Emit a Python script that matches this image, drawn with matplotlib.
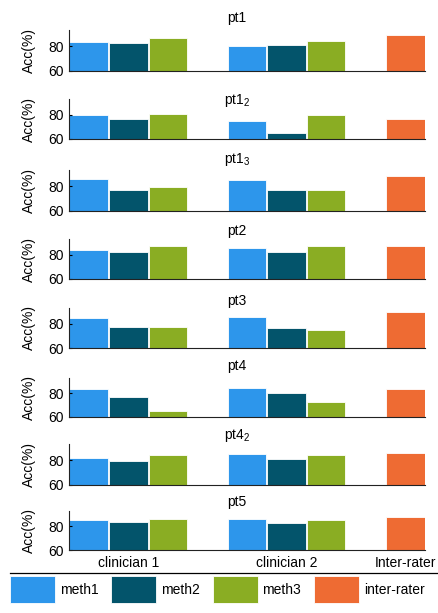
import matplotlib
matplotlib.use('Agg')
import numpy as np
import matplotlib.pyplot as plt
from matplotlib.lines import Line2D

plt.rcParams['font.family'] = ['Liberation Sans', 'DejaVu Sans']
plt.rcParams['mathtext.default'] = 'regular'

# data (accuracy %)
panels = ['pt1', 'pt1$_2$', 'pt1$_3$', 'pt2', 'pt3', 'pt4', 'pt4$_2$', 'pt5']
groups = ['clinician 1', 'clinician 2', 'Inter-rater']
methods = ['meth1', 'meth2', 'meth3', 'inter-rater']
meth1_c1 = [83.5, 80.0, 85.9, 83.7, 84.8, 83.7, 81.9, 85.1]
meth2_c1 = [82.7, 76.4, 76.8, 81.9, 77.1, 76.8, 79.5, 83.5]
meth3_c1 = [86.4, 80.8, 79.7, 87.2, 77.1, 65.3, 83.8, 86.1]
meth1_c2 = [80.3, 74.5, 85.1, 85.6, 85.9, 84.8, 84.6, 86.1]
meth2_c2 = [81.3, 64.6, 76.8, 81.9, 76.3, 80.3, 81.1, 82.7]
meth3_c2 = [84.5, 80.0, 76.8, 87.2, 75.2, 72.5, 83.8, 85.3]
inter_rater = [89.1, 76.6, 88.5, 87.2, 90.1, 83.7, 85.4, 87.7]

colors = ['#2D96EB', '#03546B', '#8AAD23', '#EE6B33']

# layout in pixels (figure is 438 x 613)
W, H = 438.0, 613.0
ax_top = [30, 99, 170, 239, 308, 378, 444, 511]
ax_bot = [71, 139, 211, 279, 348, 417, 485, 550]
title_base = [22, 104, 163, 235, 305, 370, 439, 506]
x_left, x_right = 69, 425

fig = plt.figure(figsize=(W / 100, H / 100), dpi=100)

xpos = [1, 2, 3, 5, 6, 7, 9]
for i, name in enumerate(panels):
    ax = fig.add_axes([x_left / W, 1 - ax_bot[i] / H,
                       (x_right - x_left) / W, (ax_bot[i] - ax_top[i]) / H])
    vals = [meth1_c1[i], meth2_c1[i], meth3_c1[i],
            meth1_c2[i], meth2_c2[i], meth3_c2[i], inter_rater[i]]
    cols = colors[:3] + colors[:3] + [colors[3]]
    ax.bar(xpos, vals, width=0.98, color=cols, edgecolor='white',
           linewidth=0.6)
    ax.set_xlim(0.5, 9.5)
    ax.set_ylim(60, 93)
    ax.set_yticks([60, 80])
    ax.set_xticks([2, 6, 9])
    if i == len(panels) - 1:
        ax.set_xticklabels(groups, fontsize=10)
    else:
        ax.set_xticklabels([])
    ax.tick_params(axis='x', length=0, pad=4)
    ax.tick_params(axis='y', direction='in', length=2, labelsize=10, pad=4)
    for s in ['top', 'right']:
        ax.spines[s].set_visible(False)
    for s in ['left', 'bottom']:
        ax.spines[s].set_linewidth(0.8)
        ax.spines[s].set_color('#222222')
    ax.set_ylabel('Acc(%)', fontsize=10)
    ax.yaxis.set_label_coords(-0.092, 0.5)
    fig.text(237 / W, 1 - title_base[i] / H, name, ha='center',
             va='baseline', fontsize=10)

# legend along the bottom
handles = [plt.Rectangle((0, 0), 1, 1, facecolor=c, edgecolor='white',
                         linewidth=0.6) for c in colors]
fig.legend(handles, methods, ncol=4, loc='upper left',
           bbox_to_anchor=(10 / W, 1 - 576 / H), frameon=False, fontsize=10,
           handlelength=3.25, handleheight=2.6, handletextpad=0.35,
           columnspacing=0.9, borderaxespad=0, borderpad=0)
fig.add_artist(Line2D([10 / W, 1], [1 - 573 / H] * 2,
                      transform=fig.transFigure, color='black', lw=0.9))

fig.savefig('out.png', dpi=100)
